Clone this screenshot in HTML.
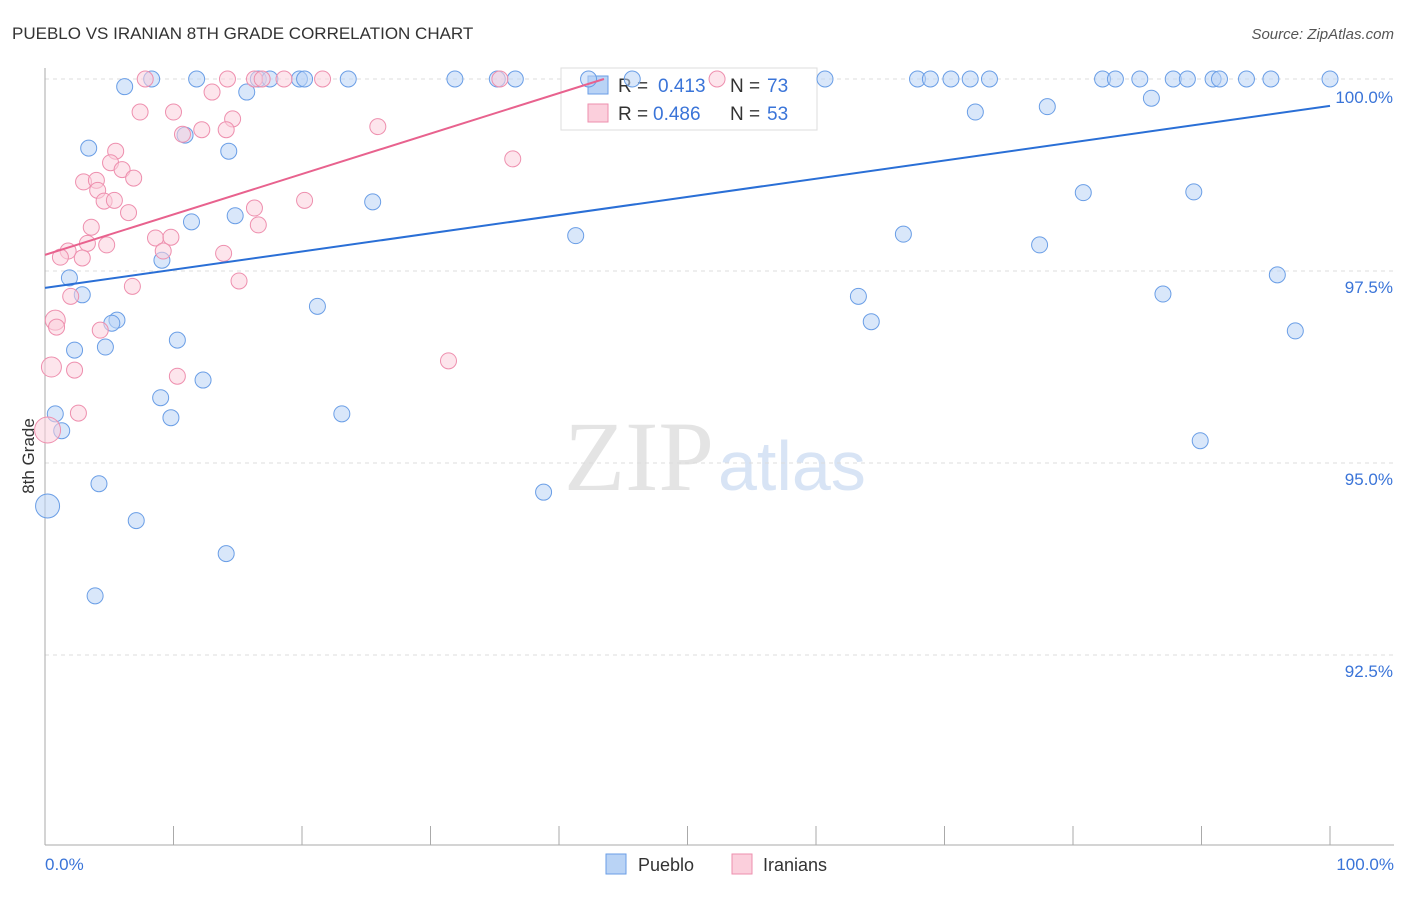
<!DOCTYPE html>
<html><head><meta charset="utf-8"><style>
body{margin:0;background:#fff;font-family:"Liberation Sans",sans-serif}
</style></head><body>
<svg id="chart" width="1406" height="892" style="font-family:'Liberation Sans',sans-serif">
<text x="12" y="39" font-size="17" fill="#333">PUEBLO VS IRANIAN 8TH GRADE CORRELATION CHART</text>
<text x="1394" y="39" font-size="15" fill="#555" font-style="italic" text-anchor="end">Source: ZipAtlas.com</text>
<text x="714" y="490" font-size="100" fill="#e4e4e4" style="font-family:'Liberation Serif',serif" text-anchor="end">ZIP</text>
<text x="718" y="490" font-size="70" fill="#d8e4f5">atlas</text>
<g id="grid"></g><g id="axes"></g>
<g>
<rect x="561" y="68" width="256" height="62" fill="#fff" stroke="#ddd"/>
<rect x="588" y="76" width="20" height="18" fill="#b9d3f5" stroke="#6a9ee6"/>
<text x="618" y="92" font-size="19" fill="#333">R =</text>
<text x="658" y="92" font-size="19" fill="#3a74d8">0.413</text>
<text x="730" y="92" font-size="19" fill="#333">N =</text>
<text x="767" y="92" font-size="19" fill="#3a74d8">73</text>
<rect x="588" y="104" width="20" height="18" fill="#fbcfdc" stroke="#ee8fae"/>
<text x="618" y="120" font-size="19" fill="#333">R =</text>
<text x="653" y="120" font-size="19" fill="#3a74d8">0.486</text>
<text x="730" y="120" font-size="19" fill="#333">N =</text>
<text x="767" y="120" font-size="19" fill="#3a74d8">53</text>
</g>
<g id="pts"></g><g id="trend"></g>
<text transform="translate(34,456) rotate(-90)" font-size="17" fill="#333" text-anchor="middle">8th Grade</text>
<text x="45" y="870" font-size="17" fill="#3a74d8">0.0%</text>
<text x="1394" y="870" font-size="17" fill="#3a74d8" text-anchor="end">100.0%</text>
<g>
<rect x="606" y="854" width="20" height="20" fill="#b9d3f5" stroke="#6a9ee6"/>
<text x="638" y="871" font-size="18" fill="#333">Pueblo</text>
<rect x="732" y="854" width="20" height="20" fill="#fbcfdc" stroke="#ee8fae"/>
<text x="763" y="871" font-size="18" fill="#333">Iranians</text>
</g>
</svg>
<script>
const yTicks=[100,97.5,95,92.5];
const xTicks=[0,10,20,30,40,50,60,70,80,90,100];
const blueX=[8.3,6.2,11.8,16.6,17.5,19.8,20.2,23.6,31.9,35.2,36.6,42.3,45.7,60.7,67.9,68.9,70.5,72.0,73.5,82.3,83.3,85.2,87.8,88.9,90.9,91.4,93.5,95.4,100,15.7,86.1,72.4,78.0,3.4,14.3,10.9,80.8,89.4,25.5,14.8,11.4,41.3,66.8,77.4,9.1,1.9,2.9,95.9,63.3,87.0,21.2,5.6,5.2,64.3,97.3,10.3,2.3,4.7,12.3,9.0,0.8,9.8,23.1,1.3,89.9,4.2,38.8,0.2,7.1,14.1,3.9];
const blueY=[100,99.9,100,100,100,100,100,100,100,100,100,100,100,100,100,100,100,100,100,100,100,100,100,100,100,100,100,100,100,99.83,99.75,99.57,99.64,99.10,99.06,99.27,98.52,98.53,98.40,98.22,98.14,97.96,97.98,97.84,97.64,97.41,97.19,97.45,97.17,97.20,97.04,96.86,96.82,96.84,96.72,96.60,96.47,96.51,96.08,95.85,95.64,95.59,95.64,95.42,95.29,94.73,94.62,94.44,94.25,93.82,93.27];
const blueSize=blueX.map((v,i)=>(v===0.2&&blueY[i]===94.44)?12:8);
const pinkX=[7.8,14.2,16.3,16.9,18.6,21.6,35.4,52.3,7.4,10.0,13.0,14.6,10.7,12.2,14.1,25.9,5.5,5.1,6.0,3.0,4.0,6.9,4.1,4.6,5.4,20.2,36.4,6.5,16.3,3.6,16.6,8.6,9.8,3.3,4.8,1.8,1.2,2.9,9.2,13.9,15.1,6.8,2.0,0.8,0.9,4.3,0.5,2.3,10.3,31.4,2.6,0.2];
const pinkY=[100,100,100,100,100,100,100,100,99.57,99.57,99.83,99.48,99.28,99.34,99.34,99.38,99.06,98.91,98.82,98.66,98.68,98.71,98.55,98.41,98.42,98.42,98.96,98.26,98.32,98.07,98.10,97.93,97.94,97.86,97.84,97.76,97.68,97.67,97.76,97.73,97.37,97.30,97.17,96.86,96.77,96.73,96.25,96.21,96.13,96.33,95.65,95.43];
const pinkSize=pinkX.map((v,i)=>v===0.2?13:(v===0.5||v===0.8&&pinkY[i]===96.86)?10:8);
const blueTrend=[[0,97.28],[100,99.65]];
const pinkTrend=[[0,97.71],[43.5,100]];
const X=v=>45+v*12.85, Y=v=>79+(100-v)*76.8;
const NS='http://www.w3.org/2000/svg';
function mk(t,a,p){const e=document.createElementNS(NS,t);for(const k in a)e.setAttribute(k,a[k]);document.getElementById(p).appendChild(e);return e;}
yTicks.forEach(t=>{
 const l=mk('line',{x1:45,x2:1394,y1:Y(t),y2:Y(t),stroke:'#ddd','stroke-dasharray':'4,4'},'grid');
 
 
 const tx=mk('text',{x:1393,y:Y(t)+(t===100?24:22),'font-size':17,fill:'#3a74d8','text-anchor':'end'},'grid');
 tx.textContent=t.toFixed(1)+'%';
 
 
});
const ax=mk('line',{x1:45,x2:45,y1:68,y2:845,stroke:'#aaa'},'axes');


const bx=mk('line',{x1:45,x2:1394,y1:845,y2:845,stroke:'#aaa'},'axes');


xTicks.forEach(t=>{const l=mk('line',{x1:X(t),x2:X(t),y1:826,y2:845,stroke:'#aaa'},'axes');
 
 });
function pts(xs,ys,ss,fill,stroke,name){xs.forEach((v,i)=>{
 const c=mk('circle',{cx:X(v),cy:Y(ys[i]),r:ss[i],fill:fill,stroke:stroke,'stroke-width':1,'fill-opacity':0.55},'pts');
 
 });}
pts(blueX,blueY,blueSize,'#b9d3f5','#6a9ee6','pueblo-point');
pts(pinkX,pinkY,pinkSize,'#fbcfdc','#ee8fae','iranian-point');
const bl=mk('line',{x1:X(blueTrend[0][0]),y1:Y(blueTrend[0][1]),x2:X(blueTrend[1][0]),y2:Y(blueTrend[1][1]),stroke:'#2a6fd6','stroke-width':2},'trend');


const pl=mk('line',{x1:X(pinkTrend[0][0]),y1:Y(pinkTrend[0][1]),x2:X(pinkTrend[1][0]),y2:Y(pinkTrend[1][1]),stroke:'#e8628e','stroke-width':2},'trend');


</script>
</body></html>
